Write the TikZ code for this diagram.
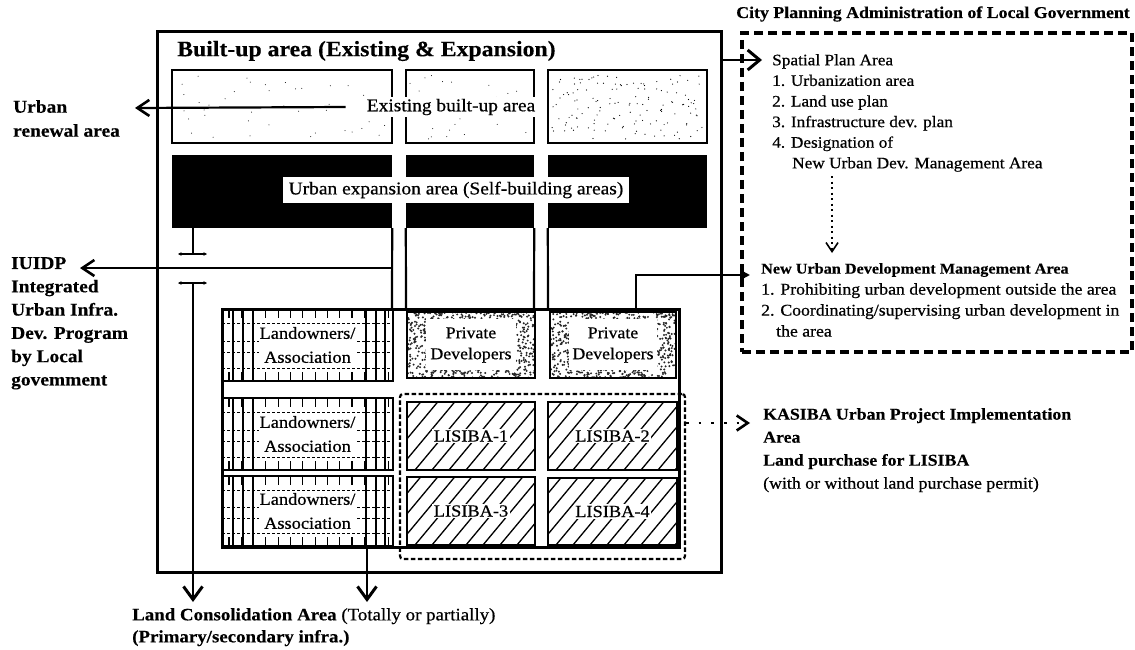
\documentclass[tikz,border=0pt]{standalone}
\usepackage{fontspec}
\setmainfont{Liberation Serif}[FakeStretch=1.08, UprightFeatures={FakeBold=0.6}, BoldFeatures={FakeBold=0.3}]
\usetikzlibrary{arrows.meta,fit,calc}

\newcommand\fsz[2]{\fontsize{#1pt}{#2pt}\selectfont}

\tikzset{
  frame/.style={draw, line width=3pt, inner sep=0pt},
  cellbox/.style={draw, line width=2.4pt, inner sep=0pt},
  road/.style={line width=2.2pt},
  lbl/.style={anchor=north west, align=left, inner sep=0pt},
  gridln/.style={line width=1.1pt},
  griddash/.style={line width=0.8pt, dash pattern=on 3pt off 2pt},
  hatch/.style={line width=1.3pt},
  arrL/.style={line width=2.2pt, -{Straight Barb[length=12pt,width=16pt,line width=2.6pt]}},
  arrBig/.style={line width=2.4pt, -{Straight Barb[length=12pt,width=20pt,line width=3pt]}},
  arrD/.style={line width=2.4pt, -{Straight Barb[length=13pt,width=19pt,line width=3pt]}},
  arrT/.style={line width=2.2pt, -{Triangle[length=10pt,width=10pt]}},
  arrV/.style={line width=2pt, dash pattern=on 2pt off 3.5pt,
               -{Straight Barb[length=9pt,width=12pt,line width=1.6pt]}},
  arrK/.style={line width=2.6pt, dash pattern=on 2.6pt off 10pt,
               -{Straight Barb[length=11pt,width=15pt,line width=2.6pt]}},
  brk/.style={line width=1.2pt, {Stealth[length=3.5pt,width=3.5pt]}-{Stealth[length=3.5pt,width=3.5pt]}},
  dashbig/.style={draw, line width=4pt, dash pattern=on 9pt off 5pt, inner sep=0pt},
  dashsmall/.style={draw, line width=2.2pt, dash pattern=on 4.5pt off 2.5pt, rounded corners=3pt, inner sep=0pt}
}

% landowners' cell: grid of lines around a white text field
\newcommand\landcell[5]{%
  \draw[gridln] (#1+11,#2) -- (#1+11,#4) (#1+21,#2) -- (#1+21,#4) (#1+31,#2) -- (#1+31,#4)
                (#3-8,#2) -- (#3-8,#4) (#3-17,#2) -- (#3-17,#4) (#3-27,#2) -- (#3-27,#4);
  \foreach \f in {0.2,0.45,0.6,0.82}
    \draw[griddash] (#1,{#2+\f*(#4-#2)}) -- (#3,{#2+\f*(#4-#2)});
  \foreach \t in {0,...,13}
    \draw[gridln] (#1+7+\t*12.3,#2) -- ++(0,9) (#1+7+\t*12.3,#4) -- ++(0,-9);
  \node[cellbox, fit={(#1,#2)(#3,#4)}] (#5) {};
  \node[fill=white, inner sep=1pt, align=center, font=\fsz{17}{24}] (#5t) at (#5.center)
    {Landowners/\\Association};
}

% private developers' cell: speckled border round a white field
\newcommand\pdcell[5]{%
  \begin{scope}
    \clip (#1,#2) rectangle (#3,#4);
    \foreach \k in {1,...,800}
      \fill[black!85] ({#1+rnd*(#3-#1)},{#2+rnd*(#4-#2)}) circle (1.1pt);
  \end{scope}
  \fill[white] (#1+19,#2+7) rectangle (#3-19,#4-8);
  \node[cellbox, fit={(#1,#2)(#3,#4)}] (#5) {};
  \node[align=center, inner sep=0pt, font=\fsz{16.5}{21}] (#5t) at (#5.center)
    {Private\\Developers};
}

% LISIBA cell: diagonal hatching
\newcommand\lisiba[6]{%
  \begin{scope}
    \clip (#1,#2) rectangle (#3,#4);
    \foreach \s in {-60,-43,...,150}
      \draw[hatch] (#1+\s,#4) -- ++(60,-72);
  \end{scope}
  \node[cellbox, fit={(#1,#2)(#3,#4)}] (#5) {};
  \node[fill=white, inner sep=1.5pt, font=\fsz{17}{20}] (#5t) at (#5.center) {#6};
}

\begin{document}
\begin{tikzpicture}[x=1pt, y=-1pt]
\useasboundingbox (0,0) rectangle (1135,650);
\pgfmathsetseed{7}

% ---------------- built-up area frame ----------------
\node[frame, fit={(157,32)(721,572)}] (builtup) {};
\node[anchor=west, inner sep=0pt, font=\bfseries\fsz{22}{26}] (builtuptitle) at (177,51)
  {Built-up area (Existing \& Expansion)};

% existing built-up blocks
\node[cellbox, fit={(172,70)(392,143)}] (exA) {};
\node[cellbox, fit={(406,70)(534,143)}] (exB) {};
\node[cellbox, fit={(548,70)(707,143)}] (exC) {};
\foreach \k in {1,...,40} \fill ({176+rnd*212},{75+rnd*64}) circle (0.5pt);
\foreach \k in {1,...,25} \fill ({410+rnd*120},{75+rnd*64}) circle (0.5pt);
\foreach \k in {1,...,140} \fill ({552+rnd*151},{75+rnd*64}) circle (0.6pt);

% urban expansion band (black) with road gaps
\node[fill=black, inner sep=0pt, fit={(172,155)(392,228)}] (expA) {};
\node[fill=black, inner sep=0pt, fit={(406,155)(534,228)}] (expB) {};
\node[fill=black, inner sep=0pt, fit={(548,155)(707,228)}] (expC) {};

\node[fill=white, inner sep=2pt, font=\fsz{18}{20}] (existing) at (451,107) {Existing built-up area};
\node[fill=white, minimum width=346pt, minimum height=26pt, inner sep=0pt, font=\fsz{18}{20}]
  (expansion) at (456,190) {Urban expansion area (Self-building areas)};

% roads running down to the development block
\draw[road] (expA.south east) -- (392,309);
\draw[road] (expB.south west) -- (406,309);
\draw[road] (expB.south east) -- (534,309);
\draw[road] (expC.south west) -- (548,309);

% ---------------- development block ----------------
\landcell{222}{309}{393}{381}{lo1}
\landcell{222}{398}{393}{470}{lo2}
\landcell{222}{476}{393}{546}{lo3}
\pdcell{407}{312}{535}{378}{pd1}
\pdcell{550}{312}{676}{378}{pd2}
\lisiba{407}{402}{535}{470}{ls1}{LISIBA-1}
\lisiba{548}{402}{677}{470}{ls2}{LISIBA-2}
\lisiba{407}{477}{535}{545}{ls3}{LISIBA-3}
\lisiba{548}{478}{677}{545}{ls4}{LISIBA-4}
\node[frame, fit={(222,309)(679,547)}] (devblock) {};
\node[dashsmall, fit={(400,394)(685,559)}] (kasiba) {};

% left road with break marks
\coordinate (brkA) at (193,254);
\coordinate (brkB) at (193,283);
\coordinate (lcTipA) at (193,602);
\coordinate (lcTipB) at (367,602);
\draw[road] (expA.south -| brkA) -- (brkA);
\draw[brk] ([xshift=-15pt]brkA) -- ([xshift=14pt]brkA);
\draw[brk] ([xshift=-15pt]brkB) -- ([xshift=14pt]brkB);
\draw[arrD] (brkB) -- (lcTipA);
\draw[arrD] (devblock.south -| lcTipB) -- (lcTipB);

% ---------------- labels on the left and below ----------------
\node[lbl, font=\bfseries\fsz{18}{24}] (renewal) at (13,100) {Urban\\renewal area};
\coordinate (renewTip) at (135,108);
\draw[arrL] ([xshift=-19pt]existing.west) -- (renewTip);

\node[lbl, font=\bfseries\fsz{18}{23.3}] (iuidp) at (11,257)
  {IUIDP\\Integrated\\Urban Infra.\\Dev. Program\\by Local\\govemment};
\coordinate (iuidpStart) at (392,268);
\coordinate (iuidpTip) at (80,268);
\draw[arrL] (iuidpStart) -- (iuidpTip);

\node[lbl, font=\fsz{17.5}{22}] (landcons) at (132,608)
  {\textbf{Land Consolidation Area} (Totally or partially)\\\textbf{(Primary/secondary infra.)}};

% ---------------- city planning administration ----------------
\node[anchor=east, inner sep=0pt, font=\bfseries\fsz{16.5}{20}] (cpa) at (1130,14)
  {City Planning Administration of Local Government};
\node[dashbig, fit={(742,33)(1132,352)}] (cpabox) {};

\node[lbl, font=\fsz{16}{20.6}] (spatial) at (772,54)
  {Spatial Plan Area\\1. Urbanization area\\2. Land use plan\\3. Infrastructure dev. plan\\4. Designation of\\\hspace*{20pt}New Urban Dev. Management Area};
\coordinate (spTip) at (762,60);
\draw[arrBig] (builtup.east |- spTip) -- (spTip);

\node[lbl, font=\fsz{16.4}{21}] (nudm) at (761,263)
  {{\bfseries\fsz{15}{21}New Urban Development Management Area}\\1. Prohibiting urban development outside the area\\2. Coordinating/supervising urban development in\\\hspace*{15pt}the area};
\coordinate (dvTop) at (832,176);
\coordinate (dvTip) at (832,253);
\draw[arrV] (dvTop) -- (dvTip);
\coordinate (nuTip) at (750,275);
\draw[arrT] ([xshift=23pt]pd2.north) |- (nuTip);

% ---------------- KASIBA ----------------
\node[lbl, font=\bfseries\fsz{16.5}{23}] (kasibatxt) at (763,408)
  {KASIBA Urban Project Implementation\\Area\\Land purchase for LISIBA\\{\mdseries (with or without land purchase permit)}};
\coordinate (kaTip) at (750,423);
\draw[arrK] (kasiba.east |- kaTip) -- (kaTip);
\end{tikzpicture}
\end{document}
